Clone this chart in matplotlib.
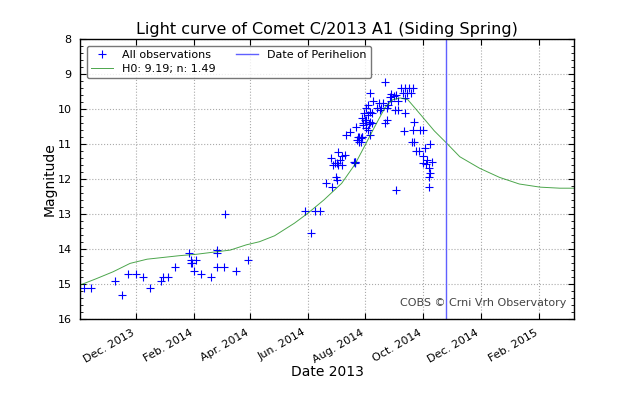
import numpy as np
import matplotlib
matplotlib.use('Agg')
import matplotlib.pyplot as plt
import matplotlib.dates as mdates
from matplotlib.ticker import MultipleLocator
from datetime import datetime

obs_dates = ['2013-10-07', '2013-10-15', '2013-11-09', '2013-11-16', '2013-11-23',
             '2013-12-01', '2013-12-09', '2013-12-16', '2013-12-28', '2013-12-30',
             '2014-01-04', '2014-01-12', '2014-01-26', '2014-01-28', '2014-01-29',
             '2014-01-30', '2014-02-01', '2014-02-03', '2014-02-08', '2014-02-19',
             '2014-02-25', '2014-02-25', '2014-02-25', '2014-03-04', '2014-03-06',
             '2014-03-17', '2014-03-30',
             '2014-05-29', '2014-06-04', '2014-06-09', '2014-06-14', '2014-06-20',
             '2014-06-26', '2014-06-27', '2014-06-28', '2014-06-30', '2014-07-01',
             '2014-07-02', '2014-07-02', '2014-07-03', '2014-07-03', '2014-07-05',
             '2014-07-07', '2014-07-07', '2014-07-10', '2014-07-20', '2014-07-21',
             '2014-07-12', '2014-07-16', '2014-07-22', '2014-07-24', '2014-07-25',
             '2014-07-27', '2014-07-28', '2014-07-30', '2014-08-01', '2014-08-05',
             '2014-08-08', '2014-08-06', '2014-07-21',
             '2014-08-22', '2014-08-06', '2014-08-28', '2014-08-27', '2014-08-31',
             '2014-09-03', '2014-08-28', '2014-09-05', '2014-09-08', '2014-09-12',
             '2014-09-16', '2014-09-21', '2014-09-10', '2014-09-14', '2014-09-18',
             '2014-09-12', '2014-08-25', '2014-08-20', '2014-08-15', '2014-08-09',
             '2014-08-17', '2014-08-13', '2014-08-18', '2014-08-24', '2014-09-01',
             '2014-09-05', '2014-08-04', '2014-08-02', '2014-08-06', '2014-07-31',
             '2014-08-04', '2014-08-08', '2014-07-28', '2014-08-02', '2014-08-06',
             '2014-08-24', '2014-08-22', '2014-09-12', '2014-07-30', '2014-08-02',
             '2014-08-04', '2014-07-25', '2014-07-28', '2014-07-23', '2014-07-27',
             '2014-09-22', '2014-09-21', '2014-09-11', '2014-09-28', '2014-10-01',
             '2014-09-22', '2014-09-19', '2014-09-24', '2014-09-27', '2014-10-03',
             '2014-10-09', '2014-10-01', '2014-10-05', '2014-10-01', '2014-10-04',
             '2014-10-11', '2014-10-07', '2014-10-08', '2014-10-07', '2014-10-07',
             '2014-09-03', '2014-07-21']
obs_mags = [15.12, 15.12, 14.91, 15.32, 14.71,
            14.71, 14.81, 15.12, 14.91, 14.81,
            14.81, 14.52, 14.12, 14.39, 14.31,
            14.41, 14.62, 14.31, 14.71, 14.81,
            14.12, 14.03, 14.52, 14.52, 13.00,
            14.62, 14.31,
            12.90, 13.53, 12.90, 12.90, 12.10,
            11.40, 12.22, 11.60, 11.55, 11.93,
            12.02, 11.53, 11.22, 11.60, 11.45,
            11.60, 11.34, 11.31, 11.50, 11.55,
            10.74, 10.64, 10.52, 10.80, 10.93,
            10.83, 10.79, 10.40, 10.31, 10.42,
            10.40, 10.74, 11.50,
            9.21, 9.53, 9.56, 9.66, 9.62,
            9.59, 9.78, 9.78, 9.40, 9.40,
            9.40, 9.40, 9.55, 9.55, 9.55,
            9.69, 9.88, 9.83, 9.83, 9.78,
            10.02, 9.97, 9.97, 9.97, 10.02,
            10.02, 9.88, 9.97, 10.07, 10.12,
            10.17, 10.12, 10.26, 10.31, 10.36,
            10.31, 10.40, 10.12, 10.45, 10.55,
            10.60, 10.79, 10.79, 10.88, 10.93,
            10.36, 10.60, 10.62, 10.60, 10.60,
            10.93, 10.93, 11.19, 11.19, 11.12,
            11.00, 11.34, 11.45, 11.55, 11.57,
            11.50, 11.69, 11.83, 11.95, 12.22,
            12.31, 11.50]

# fitted light curve H0: 9.19; n: 1.49
fit_dates = ['2013-10-03', '2013-10-20', '2013-11-07', '2013-11-25', '2013-12-13',
             '2013-12-30', '2014-01-16', '2014-02-03', '2014-02-21', '2014-03-11',
             '2014-03-28', '2014-04-11', '2014-04-27', '2014-05-18', '2014-06-01',
             '2014-06-18', '2014-07-07', '2014-07-21', '2014-07-31', '2014-08-11',
             '2014-08-22', '2014-08-30', '2014-09-07', '2014-09-15', '2014-09-22',
             '2014-10-03', '2014-10-13', '2014-10-26', '2014-11-09', '2014-11-30',
             '2014-12-21', '2015-01-11', '2015-02-02', '2015-02-23', '2015-03-10']
fit_mags = [15.03, 14.85, 14.65, 14.41, 14.29,
            14.24, 14.19, 14.15, 14.09, 14.03,
            13.88, 13.79, 13.62, 13.26, 12.98,
            12.60, 12.12, 11.58, 11.07, 10.50,
            9.95, 9.73, 9.68, 9.73, 9.95,
            10.30, 10.62, 10.97, 11.36, 11.69,
            11.95, 12.14, 12.23, 12.26, 12.26]

perihelion = '2014-10-25'

to_dt = lambda s: datetime.strptime(s, '%Y-%m-%d')
xo = [to_dt(d) for d in obs_dates]
xf = [to_dt(d) for d in fit_dates]

fig = plt.figure(figsize=(6.4, 4.0), dpi=100)
ax = fig.add_axes([0.125, 0.2025, 0.772, 0.6995])

ax.plot(xo, obs_mags, '+', color='#0000ff', markersize=6, markeredgewidth=0.8,
        label='All observations')
ax.plot(xf, fit_mags, '-', color='#008000', linewidth=0.7, alpha=0.7,
        label='H0: 9.19; n: 1.49')
ax.axvline(to_dt(perihelion), color='#6060ff', linewidth=1.0,
           label='Date of Perihelion')

ax.set_xlim(to_dt('2013-10-03'), to_dt('2015-03-10'))
ax.set_ylim(16, 8)
ax.yaxis.set_major_locator(MultipleLocator(1))
ax.yaxis.set_minor_locator(MultipleLocator(0.2))
ax.xaxis.set_major_locator(mdates.MonthLocator(bymonth=[2, 4, 6, 8, 10, 12]))
ax.xaxis.set_major_formatter(mdates.DateFormatter('%b. %Y'))

ax.tick_params(which='both', direction='in', top=True, right=True, labelsize=8)
ax.tick_params(which='major', length=4, pad=6)
ax.tick_params(which='minor', length=2)
for lab in ax.get_xticklabels():
    lab.set_rotation(30)
    lab.set_ha('right')

ax.grid(True, color='#aaaaaa', linestyle=':', linewidth=0.8)
for s in ax.spines.values():
    s.set_linewidth(1.0)

ax.set_title('Light curve of Comet C/2013 A1 (Siding Spring)', fontsize=11.5, pad=4)
ax.set_xlabel('Date 2013', fontsize=10, labelpad=0)
ax.set_ylabel('Magnitude', fontsize=10, labelpad=1)

leg = ax.legend(loc='upper left', ncol=2, fontsize=8, numpoints=1,
                handlelength=2.0, columnspacing=1.8, labelspacing=0.3,
                borderaxespad=0.6)
leg.get_frame().set_edgecolor('#555555')

ax.text(0.985, 0.04, 'COBS \u00a9 Crni Vrh Observatory', transform=ax.transAxes,
        ha='right', va='bottom', fontsize=8, color='#444444')

fig.savefig('out.png', dpi=100)
